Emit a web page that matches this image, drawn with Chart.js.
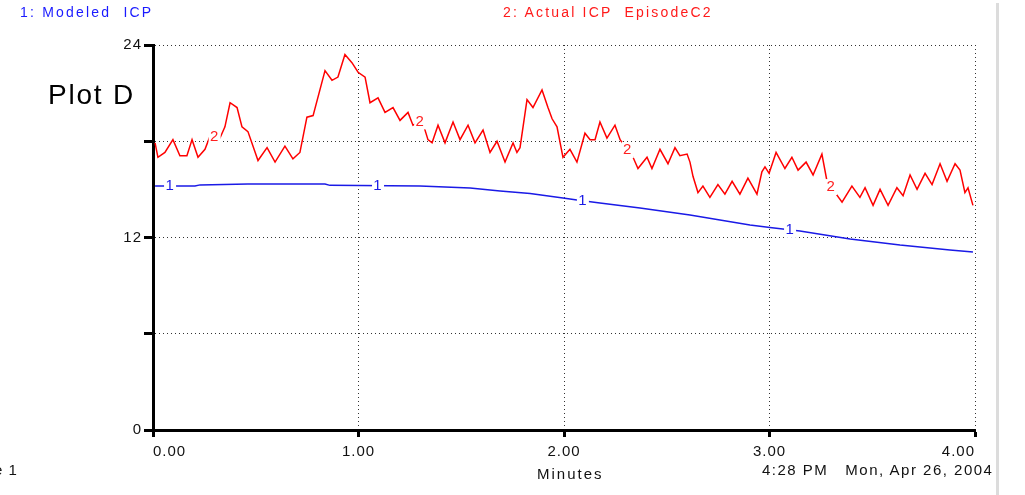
<!DOCTYPE html>
<html>
<head>
<meta charset="utf-8">
<script src="https://cdn.jsdelivr.net/npm/chart.js@4.4.0/dist/chart.umd.min.js"></script>
<style>
  body { margin: 0; background: #fff; }
  #wrap { position: relative; width: 1025px; height: 495px; overflow: hidden; }
  .txt { position: absolute; font-family: "Liberation Sans", Arial, sans-serif; white-space: pre; letter-spacing: 1px; }
</style>
</head>
<body>
<div id="wrap">
  <canvas id="myChart" width="1025" height="495"></canvas>
  <div class="txt" style="left:20px; top:4px; font-size:14px; color:#1a1aff; letter-spacing:2.2px;">1: Modeled  ICP</div>
  <div class="txt" style="left:503px; top:4px; font-size:14px; color:#ff1a1a; letter-spacing:2.2px;">2: Actual ICP  EpisodeC2</div>
  <div class="txt" style="left:48px; top:79px; font-size:28px; color:#000; letter-spacing:1.8px;">Plot D</div>
  <div class="txt" style="left:537px; top:465px; font-size:15px; color:#111; letter-spacing:2px;">Minutes</div>
  <div class="txt" style="left:762px; top:461px; font-size:15px; color:#111; letter-spacing:1.5px;">4:28 PM   Mon, Apr 26, 2004</div>
  <div class="txt" style="left:-6px; top:461px; font-size:15px; color:#111;">e 1</div>
  <div style="position:absolute; left:996px; top:3px; width:3px; height:492px; background:#dcdcdc;"></div>
</div>
<script>
// tick values
var xTicks = [0, 1, 2, 3, 4];
var yTicks = [0, 6, 12, 18, 24];
var yLabeled = [0, 12, 24];

// 1: Modeled ICP
var modeledMinutes = [0.010, 0.204, 0.229, 0.462, 0.837, 0.861, 1.299, 1.543, 1.689, 1.835, 1.995, 2.063, 2.175, 2.370, 2.613, 2.759, 2.905, 3.002, 3.148, 3.392, 3.635, 3.878, 3.990];
var modeledICP = [15.21, 15.21, 15.28, 15.34, 15.34, 15.25, 15.21, 15.09, 14.90, 14.74, 14.46, 14.34, 14.15, 13.84, 13.40, 13.09, 12.78, 12.62, 12.41, 11.91, 11.53, 11.22, 11.10];

// 2: Actual ICP EpisodeC2
var actualMinutes = [0.010, 0.024, 0.058, 0.097, 0.131, 0.165, 0.190, 0.219, 0.253, 0.277, 0.326, 0.350, 0.375, 0.409, 0.433, 0.462, 0.511, 0.555, 0.594, 0.642, 0.681, 0.715, 0.749, 0.779, 0.837, 0.871, 0.900, 0.934, 0.968, 0.998,
  1.032, 1.056, 1.095, 1.129, 1.168, 1.202, 1.241, 1.265, 1.309, 1.338, 1.358, 1.387, 1.421, 1.460, 1.494, 1.533, 1.567, 1.606, 1.640, 1.674, 1.713, 1.752, 1.771, 1.786, 1.820, 1.849, 1.893, 1.922, 1.942, 1.966, 1.995,
  2.029, 2.063, 2.102, 2.127, 2.151, 2.175, 2.209, 2.248, 2.273, 2.336, 2.360, 2.404, 2.428, 2.467, 2.506, 2.540, 2.564, 2.599, 2.613, 2.628, 2.652, 2.676, 2.710, 2.749, 2.783, 2.818, 2.856, 2.895, 2.939, 2.963, 2.978, 2.998,
  3.032, 3.075, 3.109, 3.139, 3.178, 3.212, 3.255, 3.280, 3.353, 3.401, 3.440, 3.465, 3.504, 3.538, 3.577, 3.620, 3.650, 3.684, 3.718, 3.757, 3.791, 3.830, 3.864, 3.903, 3.927, 3.951, 3.966, 3.990];
var actualICP = [17.9, 17.0, 17.3, 18.1, 17.1, 17.1, 18.1, 17.0, 17.5, 18.3, 18.2, 18.9, 20.4, 20.1, 18.9, 18.6, 16.8, 17.6, 16.7, 17.7, 16.9, 17.3, 19.5, 19.6, 22.4, 21.8, 22.0, 23.4, 22.9, 22.3,
  22.0, 20.4, 20.7, 19.8, 20.1, 19.3, 19.8, 19.0, 19.3, 18.1, 17.9, 19.0, 17.9, 19.2, 18.1, 19.0, 17.9, 18.7, 17.3, 18.0, 16.7, 17.9, 17.3, 17.6, 20.6, 20.1, 21.2, 20.1, 19.4, 18.9, 17.0,
  17.5, 16.7, 18.5, 18.1, 18.1, 19.2, 18.2, 19.0, 18.1, 17.0, 16.3, 17.0, 16.3, 17.5, 16.6, 17.6, 17.1, 17.2, 16.7, 15.8, 14.8, 15.2, 14.5, 15.3, 14.7, 15.5, 14.7, 15.7, 14.7, 16.1, 16.4, 16.0,
  17.3, 16.3, 17.0, 16.2, 16.7, 15.9, 17.2, 15.5, 14.2, 15.2, 14.5, 15.1, 14.0, 15.0, 14.0, 15.1, 14.6, 15.9, 15.0, 16.0, 15.3, 16.6, 15.5, 16.6, 16.2, 14.8, 15.1, 14.0];

// where the series numbers sit on each line (minutes)
var modeledMarks = [0.083, 1.095, 2.092, 3.100];
var actualMarks = [0.300, 1.300, 2.310, 3.300];

function toPoints(xs, ys) {
    return xs.map(function (x, i) { return { x: x, y: ys[i] }; });
}

function valueAt(xs, ys, t) {
    for (var i = 1; i < xs.length; i++) {
        if (xs[i] >= t) {
            var f = (t - xs[i - 1]) / (xs[i] - xs[i - 1]);
            return ys[i - 1] + f * (ys[i] - ys[i - 1]);
        }
    }
    return ys[ys.length - 1];
}

var spacing = {
    id: 'spacing',
    beforeDraw: function (chart) { chart.ctx.letterSpacing = '1px'; }
};

var lineNumbers = {
    id: 'lineNumbers',
    afterDatasetsDraw: function (chart) {
        var ctx = chart.ctx;
        var xs = chart.scales.x, ys = chart.scales.y;
        var sets = [
            { t: modeledMarks, xs: modeledMinutes, ys: modeledICP, txt: '1', color: '#1a1ae6' },
            { t: actualMarks, xs: actualMinutes, ys: actualICP, txt: '2', color: '#ff2020' }
        ];
        ctx.save();
        ctx.font = '15px "Liberation Sans", Arial, sans-serif';
        ctx.textAlign = 'center';
        ctx.textBaseline = 'middle';
        sets.forEach(function (s) {
            s.t.forEach(function (t) {
                var px = xs.getPixelForValue(t);
                var py = ys.getPixelForValue(valueAt(s.xs, s.ys, t));
                ctx.fillStyle = '#fff';
                ctx.fillRect(px - 6, py - 8, 12, 16);
                ctx.fillStyle = s.color;
                ctx.fillText(s.txt, px, py);
            });
        });
        ctx.restore();
    }
};

var ctx = document.querySelector('#myChart').getContext('2d');
var myChart = new Chart(ctx, {
    type: 'line',
    data: {
        datasets: [{
            label: '1: Modeled ICP',
            data: toPoints(modeledMinutes, modeledICP),
            borderColor: '#1a1ae6',
            borderWidth: 1.5,
            pointRadius: 0,
            tension: 0
        }, {
            label: '2: Actual ICP  EpisodeC2',
            data: toPoints(actualMinutes, actualICP),
            borderColor: '#ff0000',
            borderWidth: 1.5,
            pointRadius: 0,
            tension: 0
        }]
    },
    options: {
        responsive: false,
        animation: false,
        events: [],
        layout: { padding: { left: 0, right: 50, top: 45, bottom: 0 } },
        plugins: { legend: { display: false }, tooltip: { enabled: false } },
        scales: {
            x: {
                type: 'linear',
                min: 0,
                max: 4,
                afterBuildTicks: function (s) { s.ticks = xTicks.map(function (v) { return { value: v }; }); },
                afterFit: function (s) { s.height = 65; },
                ticks: {
                    callback: function (v) { return v.toFixed(2); },
                    color: '#111',
                    font: { family: '"Liberation Sans", Arial, sans-serif', size: 15 },
                    padding: 6,
                    align: 'inner',
                    maxRotation: 0
                },
                grid: {
                    color: '#333',
                    lineWidth: 1,
                    tickLength: 7,
                    tickColor: '#000',
                    tickWidth: 3
                },
                border: { color: '#000', width: 3, dash: [1, 3] }
            },
            y: {
                min: 0,
                max: 24,
                afterBuildTicks: function (s) { s.ticks = yTicks.map(function (v) { return { value: v }; }); },
                afterFit: function (s) { s.width = 153; },
                ticks: {
                    callback: function (v) { return yLabeled.indexOf(v) >= 0 ? String(v) : ''; },
                    color: '#111',
                    font: { family: '"Liberation Sans", Arial, sans-serif', size: 15 },
                    padding: 2
                },
                grid: {
                    color: '#333',
                    lineWidth: 1,
                    tickLength: 9,
                    tickColor: '#000',
                    tickWidth: 3
                },
                border: { color: '#000', width: 3, dash: [1, 3] }
            }
        }
    },
    plugins: [spacing, lineNumbers]
});
</script>
</body>
</html>
